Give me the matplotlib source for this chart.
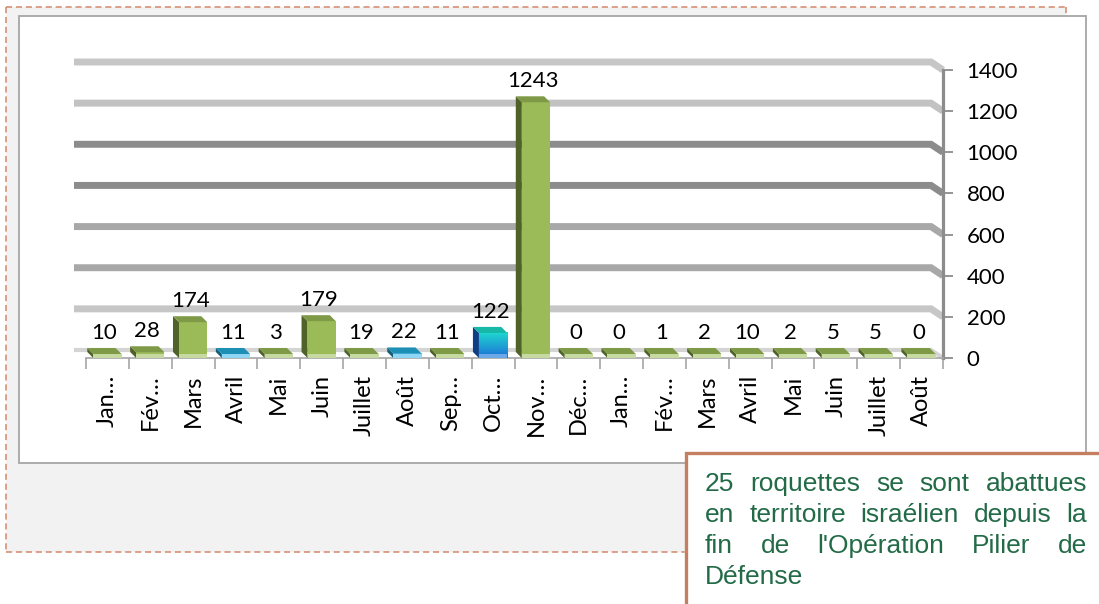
import matplotlib
matplotlib.use("Agg")
import matplotlib.pyplot as plt
import numpy as np
from matplotlib.patches import Rectangle, Polygon
from matplotlib.colors import LinearSegmentedColormap

months = ["Jan…", "Fév…", "Mars", "Avril", "Mai", "Juin", "Juillet", "Août", "Sep…", "Oct…",
          "Nov…", "Déc…", "Jan…", "Fév…", "Mars", "Avril", "Mai", "Juin", "Juillet", "Août"]
rockets = [10, 28, 174, 11, 3, 179, 19, 22, 11, 122, 1243, 0, 0, 1, 2, 10, 2, 5, 5, 0]
bar_kind = ["green", "green", "green", "blue", "green", "green", "green", "blue", "green", "teal",
            "green", "green", "green", "green", "green", "green", "green", "green", "green", "green"]
y_ticks = [0, 200, 400, 600, 800, 1000, 1200, 1400]
grid_colors = ["#d4d4d4", "#c6c6c6", "#a8a8a8", "#a8a8a8", "#8c8c8c", "#8c8c8c", "#c2c2c2", "#c6c6c6"]
note_lines = ["25 roquettes se sont abattues",
              "en territoire israélien depuis la",
              "fin de l'Opération Pilier de",
              "Défense"]

# front, top, side, bottom strip
palette = {
    "green": ("#9bbb59", "#7f9a47", "#4f6228", "#c6d9a0"),
    "blue": ("#5ec3ec", "#1d8fb5", "#14607a", "#8fd6f4"),
    "teal": ("#1ec8d8", "#17b8a8", "#0b3f86", "#6aa8e8"),
}

fig = plt.figure(figsize=(10.99, 6.04), dpi=100)

# page decorations in pixel coordinates
bg = fig.add_axes([0, 0, 1, 1])
bg.set_xlim(0, 1099)
bg.set_ylim(604, 0)
bg.axis("off")
bg.add_patch(Rectangle((6, 7), 1060, 545, facecolor="#f2f2f2", edgecolor="none"))
dash = dict(color="#d4876a", lw=1.1, linestyle=(0, (4, 2.5)))
bg.plot([6, 6], [7, 552], **dash)
bg.plot([6, 1066], [7, 7], **dash)
bg.plot([1066, 1066], [7, 16], **dash)
bg.plot([6, 690], [552, 552], **dash)
bg.add_patch(Rectangle((19, 16), 1067, 447, facecolor="white", edgecolor="#a6a6a6", lw=1.3))

# chart axes
ax = fig.add_axes([86 / 1099, (604 - 358) / 604, 857 / 1099, 288 / 604])
ax.patch.set_alpha(0)
ax.set_xlim(-0.5, 19.5)
ax.set_ylim(0, 1400)

pos = ax.get_position()
px_x = pos.width * fig.get_figwidth() * fig.dpi / 20
px_y = pos.height * fig.get_figheight() * fig.dpi / 1400

# back wall gridlines with bevel to the front axis
dxb, dyb = 12 / px_x, 8 / px_y
for v, c in zip(y_ticks, grid_colors):
    lw = 3 if v == 0 else 5
    ax.plot([-0.5 - dxb, 19.5 - dxb, 19.5], [v + dyb, v + dyb, v], color=c, lw=lw,
            solid_capstyle="butt", solid_joinstyle="miter", clip_on=False, zorder=1)

# 3D-looking bars
w = 0.66
dx, dy = 6 / px_x, 6 / px_y
base = 4 / px_y
x = np.arange(len(rockets))
fronts = ax.bar(x, rockets, width=w, color=[palette[k][0] for k in bar_kind], zorder=4)
grad = LinearSegmentedColormap.from_list("oct", ["#1e6fd6", "#1ed8d0"])
for i, (v, k) in enumerate(zip(rockets, bar_kind)):
    front, top, side, strip = palette[k]
    h = max(v, base)
    l, r = i - w / 2, i + w / 2
    ax.add_patch(Polygon([(l, 0), (l, h), (l - dx, h + dy), (l - dx, dy)],
                         facecolor=side, edgecolor="none", zorder=3))
    ax.add_patch(Polygon([(l, h), (r, h), (r - dx, h + dy), (l - dx, h + dy)],
                         facecolor=top, edgecolor="none", zorder=5))
    if k == "teal":
        ax.imshow(np.linspace(0, 1, 50).reshape(-1, 1), cmap=grad, origin="lower",
                  extent=(l, r, 0, v), aspect="auto", zorder=4.5)
    ax.add_patch(Rectangle((l, 0), w, base, facecolor=strip, edgecolor="none", zorder=5))
    ax.text(i - dx / 2, h + dy + 5 / px_y, str(v), ha="center", va="bottom",
            fontsize=16, family="Lato", zorder=6)

ax.set_xlim(-0.5, 19.5)
ax.set_ylim(0, 1400)

for s in ["top", "left"]:
    ax.spines[s].set_visible(False)
ax.spines["bottom"].set_color("#a6a6a6")
ax.spines["bottom"].set_linewidth(1.2)
ax.spines["right"].set_color("#8c8c8c")
ax.spines["right"].set_linewidth(2.3)

ax.set_xticks(x, months, rotation=90, fontsize=17, family="Lato")
ax.set_xticks(np.arange(-0.5, 20, 1), minor=True)
ax.tick_params(axis="x", which="major", length=0, pad=12)
ax.tick_params(axis="x", which="minor", length=8, width=1.2, color="#a6a6a6")
ax.yaxis.tick_right()
ax.set_yticks(y_ticks)
ax.tick_params(axis="y", length=7, width=1.3, color="#8c8c8c", pad=10, labelsize=16)
for t in ax.get_yticklabels():
    t.set_family("Lato")

# note box with justified text
bg.add_patch(Rectangle((686, 453), 430, 170, facecolor="white", edgecolor="#c47e62", lw=2.4))
renderer = fig.canvas.get_renderer()
left, right = 705, 1087
for n, line in enumerate(note_lines):
    yb = 491 + 31 * n
    words = line.split()
    txts = [bg.text(left, yb, wd, fontsize=19, family="Liberation Sans", color="#236b47",
                    va="baseline", ha="left") for wd in words]
    if n == len(note_lines) - 1 or len(words) < 2:
        gap = 7.3
    else:
        widths = [t.get_window_extent(renderer).width for t in txts]
        gap = (right - left - sum(widths)) / (len(words) - 1)
    xpos = left
    for t in txts:
        t.set_x(xpos)
        xpos += t.get_window_extent(renderer).width + gap

fig.savefig("out.png", dpi=100)
